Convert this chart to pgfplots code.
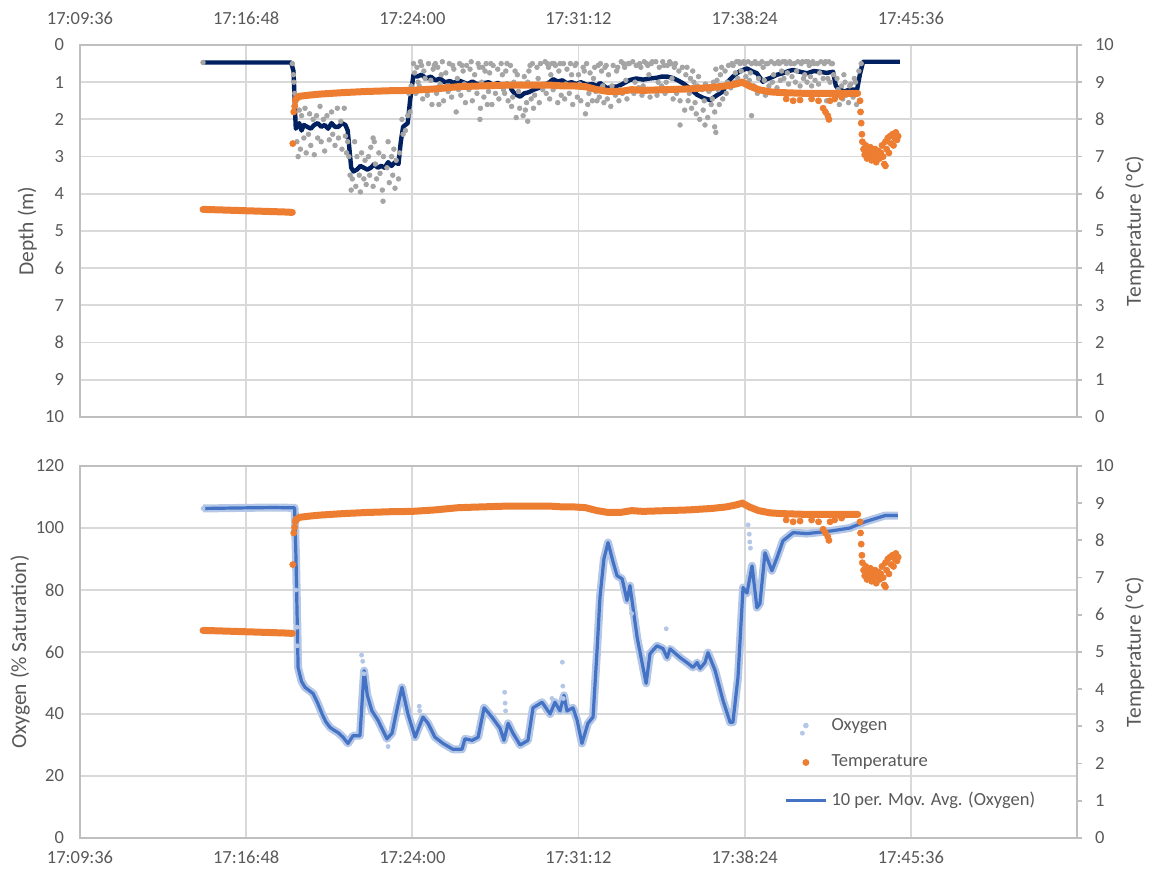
\documentclass[border=0pt]{standalone}
\usepackage{pgfplots}
\pgfplotsset{compat=1.18}
\usepackage{pgfplotstable}
\usepackage{fontspec}
\setmainfont{Carlito}

\definecolor{txt}{HTML}{595959}
\definecolor{gridc}{HTML}{D9D9D9}
\definecolor{axc}{HTML}{BFBFBF}
\definecolor{navy}{HTML}{002060}
\definecolor{org}{HTML}{ED7D31}
\definecolor{dgrey}{HTML}{A5A5A5}
\definecolor{oxyl}{HTML}{B4C7E7}
\definecolor{oxy}{HTML}{4472C4}

% time axis: minutes after 17:00
\pgfplotstableread{
t T
14.93 5.58
15.5 5.57
16.0 5.56
16.5 5.55
17.0 5.54
17.5 5.53
18.0 5.52
18.5 5.51
18.8 5.50
18.81 nan
18.95 8.55
19.1 8.62
19.5 8.65
20.0 8.68
21.0 8.72
22.0 8.75
23.0 8.77
24.0 8.78
25.0 8.82
26.0 8.88
27.0 8.90
28.0 8.92
29.0 8.92
30.0 8.92
30.5 8.90
31.0 8.90
31.5 8.88
32.0 8.80
32.5 8.75
33.0 8.75
33.5 8.80
34.0 8.78
35.0 8.80
36.0 8.82
37.0 8.86
37.6 8.90
38.0 8.95
38.3 9.00
38.6 8.90
39.0 8.80
39.5 8.74
40.0 8.72
41.0 8.70
42.0 8.70
43.0 8.70
43.3 8.70
}\temptab

\pgfplotstableread{
t O
14.93 106.3
16.8 106.5
18.0 106.6
18.9 106.5
18.96 90
19.05 55
19.2 50.5
19.35 48.6
19.70 46.6
19.9 43.5
20.09 40
20.25 37.5
20.43 35.7
20.6 34.8
20.78 34
21.0 32.5
21.21 30.5
21.43 33
21.73 33
21.91 54
22.05 46
22.25 41
22.51 38
22.90 32
23.12 33.8
23.35 42
23.55 48.6
23.81 40
24.12 32.5
24.46 39
24.68 37
24.98 32.5
25.33 30.5
25.76 28.6
26.15 28.6
26.28 32
26.59 31.5
26.85 32.5
27.11 42
27.45 39
27.80 35.4
27.97 31.5
28.15 37
28.36 33.8
28.67 30
29.01 31.5
29.23 42
29.62 43.8
29.97 40
30.18 43.8
30.40 41
30.57 46
30.70 41
30.96 42
31.14 38
31.35 30.5
31.61 37
31.83 39
32.0 60
32.13 77.6
32.3 90
32.48 95.3
32.7 89
32.87 84.6
33.09 83.6
33.30 76.6
33.43 81.4
33.74 64.7
34.13 49.9
34.30 59.5
34.60 62
34.86 61.1
35.04 58.2
35.17 61
35.60 58.2
35.95 56.3
36.16 55
36.34 56.6
36.47 54.7
36.68 56.6
36.81 59.8
37.12 54
37.46 44.4
37.77 37.3
37.89 37.3
38.11 51.8
38.33 80.8
38.50 79
38.72 87.8
38.93 74.3
39.06 75.6
39.28 92
39.58 86.2
39.80 90.4
40.06 95.9
40.50 98.5
41.10 98.2
42.10 99
42.96 100
43.61 102
44.48 104
45.04 104
}\oxytab

\pgfplotsset{
  panel/.style={
    scale only axis, width=498.5pt, height=186pt, anchor=south west,
    xmin=9.6, xmax=52.8,
    xtick={9.6,16.8,24,31.2,38.4,45.6,52.8},
    xticklabels={17:09:36,17:16:48,17:24:00,17:31:12,17:38:24,17:45:36,{}},
    major tick length=0pt,
    tick label style={font=\fontsize{9.25}{11}\selectfont, text=txt},
    yticklabel style={xshift=-4.5pt},
    label style={font=\fontsize{10.75}{13}\selectfont, text=txt},
    axis line style={axc, line width=0.9pt},
    grid style={gridc, line width=0.9pt},
    xmajorgrids, ymajorgrids,
    /pgf/number format/assume math mode=true,
    unbounded coords=jump,
  },
  rpanel/.style={
    scale only axis, width=498.5pt, height=186pt, anchor=south west,
    xmin=9.6, xmax=52.8,
    axis x line=none, axis y line*=right,
    ymin=0, ymax=10, ytick={0,...,10},
    tick align=outside, major tick length=2.5pt,
    ytick style={axc, line width=0.9pt},
    tick label style={font=\fontsize{9.25}{11}\selectfont, text=txt},
    yticklabel style={xshift=3pt},
    label style={font=\fontsize{10.75}{13}\selectfont, text=txt},
    axis line style={axc, line width=0.9pt},
    /pgf/number format/assume math mode=true,
    unbounded coords=jump,
    ylabel={Temperature (ºC)},
    ylabel style={at={(axis description cs:1.058,0.5)}, anchor=center},
  },
  legend image code/.code={\draw[mark repeat=2, mark phase=2, #1]
    plot coordinates {(0pt,0pt) (10pt,0pt) (20pt,0pt)};},
}

\begin{document}
\begin{tikzpicture}
\useasboundingbox (0,0) rectangle (575pt,436pt);

% ---------- top panel: depth ----------
\begin{axis}[panel, at={(40pt,227.5pt)},
    y dir=reverse, ymin=0, ymax=10, ytick={0,...,10},
    xticklabel pos=upper,
    xticklabel style={yshift=6.5pt},
    ylabel={Depth (m)},
    ylabel style={at={(axis description cs:-0.053,0.5)}, anchor=center}]
\addplot[only marks, mark=*, mark size=1.15pt, dgrey] coordinates {
(14.93,0.47) (18.8,0.5) (18.85,0.8) (18.87,1.0) (18.9,1.3) (18.92,1.6)
(19.0,2.6) (19.05,3.0) (19.1,1.75) (19.15,2.8) (19.2,1.9) (19.3,2.5) (19.35,1.7) (19.4,2.9)
(19.5,2.4) (19.55,1.85) (19.6,2.7) (19.7,2.0) (19.75,2.95) (19.85,1.9) (19.9,2.5) (20.0,1.65)
(20.05,2.6) (20.15,2.0) (20.2,2.85) (20.3,1.9) (20.4,2.55) (20.5,1.8) (20.55,2.4) (20.65,2.7)
(20.75,1.7) (20.8,2.5) (20.9,2.05) (20.95,2.8) (21.05,1.7) (21.1,2.45) (21.15,2.9)
(21.2,2.6) (21.25,3.0) (21.3,3.5)
(21.35,3.9) (21.4,3.6) (21.5,2.6) (21.55,3.8) (21.6,3.0) (21.7,3.5) (21.75,3.95) (21.8,2.9)
(21.9,3.6) (21.95,3.1) (22.0,3.75) (22.1,3.0) (22.15,3.5) (22.2,2.75) (22.3,3.8) (22.4,3.2)
(22.45,3.6) (22.55,2.9) (22.6,3.45) (22.7,3.9) (22.73,4.2) (22.75,3.0) (22.9,3.3) (22.95,2.6)
(23.0,3.7) (23.1,3.0) (23.15,3.5) (23.2,2.8) (23.25,3.85) (23.3,3.1) (23.4,3.6) (23.45,2.9)
(22.3,2.5) (22.35,2.6)
(23.55,2.0) (23.6,2.4) (23.7,2.3) (23.8,1.9) (23.85,1.3) (23.9,1.8) (23.95,1.1)
(24.05,0.5) (24.15,1.3) (24.2,0.6) (24.3,1.1) (24.35,0.45) (24.45,1.45) (24.5,0.7) (24.6,1.2)
(24.7,0.5) (24.8,0.95) (24.85,1.6) (24.95,0.55)
(24.1,0.75) (24.25,1.0) (24.4,0.55) (24.55,0.9) (24.65,1.35) (24.9,0.65)
(25.05,1.3) (25.1,0.6) (25.2,1.05) (25.3,0.45) (25.35,1.5) (25.45,0.75) (25.55,1.25) (25.6,0.5)
(25.7,1.4) (25.8,0.65) (25.9,1.8) (25.95,0.9)
(25.0,0.5) (25.15,1.6) (25.25,0.8) (25.5,1.1) (25.75,0.55) (25.85,1.15)
(26.05,0.5) (26.1,1.35) (26.2,0.7) (26.3,1.55) (26.35,0.55) (26.45,1.2) (26.55,0.45) (26.6,1.5)
(26.7,0.8) (26.8,1.3) (26.85,0.5) (26.95,1.7) (26.93,2.0)
(26.0,1.2) (26.15,0.55) (26.25,1.05) (26.5,0.65) (26.65,1.1) (26.9,0.6)
(27.05,0.6) (27.1,1.4) (27.2,0.5) (27.3,1.25) (27.35,0.75) (27.45,1.6) (27.5,0.55) (27.6,1.3)
(27.7,0.65) (27.75,1.45) (27.85,0.5) (27.95,1.2)
(27.0,1.0) (27.15,0.7) (27.25,1.6) (27.4,0.5) (27.65,1.1) (27.9,0.8)
(28.05,0.7) (28.15,1.5) (28.25,0.55) (28.3,1.65) (28.4,1.0) (28.5,1.95) (28.55,0.8) (28.65,1.7)
(28.7,1.05) (28.8,1.9) (28.85,0.85) (28.95,1.55) (29.0,2.05)
(28.0,1.3) (28.1,0.5) (28.35,1.4) (28.45,0.7) (28.6,1.25) (28.9,1.75)
(29.05,0.7) (29.15,1.45) (29.2,0.5) (29.3,1.35) (29.4,0.6) (29.5,1.55) (29.55,0.5) (29.65,1.2)
(29.75,0.45) (29.8,1.3) (29.9,0.6) (29.95,1.45)
(29.0,1.0) (29.1,0.55) (29.25,1.7) (29.45,0.9) (29.7,1.05) (29.85,0.5)
(30.05,0.5) (30.1,1.2) (30.2,0.55) (30.3,1.55) (30.35,0.7) (30.45,1.35) (30.55,0.5) (30.6,1.45)
(30.7,0.65) (30.8,1.3) (30.85,0.5) (30.95,1.6)
(30.0,0.8) (30.15,0.5) (30.25,1.1) (30.4,0.5) (30.65,1.05) (30.9,0.8)
(31.05,0.55) (31.15,1.4) (31.2,0.8) (31.3,1.5) (31.4,0.6) (31.5,1.85) (31.55,0.5) (31.65,1.3)
(31.7,0.75) (31.8,1.5) (31.9,0.6) (31.95,1.25)
(31.0,1.1) (31.1,0.5) (31.25,1.05) (31.45,0.7) (31.6,1.6) (31.85,0.9)
(32.05,0.55) (32.1,1.4) (32.2,0.7) (32.3,1.55) (32.35,0.6) (32.45,1.45) (32.5,0.8) (32.6,1.65)
(32.7,0.55) (32.8,1.35) (32.85,0.7) (32.95,1.5)
(32.0,1.5) (32.15,0.5) (32.25,1.1) (32.4,0.55) (32.65,1.1) (32.9,0.6)
(33.05,0.45) (33.1,1.3) (33.2,0.6) (33.3,1.45) (33.35,0.5) (33.45,1.2) (33.55,0.45) (33.6,1.3)
(33.7,0.55) (33.8,1.15) (33.85,0.5) (33.95,1.35)
(33.0,1.2) (33.15,0.5) (33.25,0.95) (33.4,0.5) (33.65,1.0) (33.9,0.6)
(34.05,0.45) (34.1,1.25) (34.2,0.55) (34.3,1.4) (34.35,0.5) (34.45,1.2) (34.55,0.45) (34.6,1.35)
(34.7,0.6) (34.8,1.1) (34.85,0.45) (34.95,1.3)
(34.0,1.1) (34.15,0.5) (34.25,0.8) (34.4,0.45) (34.65,1.0) (34.9,0.55)
(35.05,0.55) (35.1,1.2) (35.2,0.5) (35.3,1.45) (35.35,0.6) (35.45,1.3) (35.55,0.7) (35.6,1.5)
(35.7,0.6) (35.8,1.75) (35.85,0.8) (35.95,1.5) (35.6,2.15)
(35.0,1.0) (35.15,0.45) (35.25,0.9) (35.4,0.5) (35.65,1.2) (35.9,0.6)
(36.05,0.9) (36.1,1.7) (36.2,1.0) (36.3,1.85) (36.35,1.1) (36.45,2.0) (36.55,1.2) (36.6,1.75)
(36.7,1.05) (36.8,1.95) (36.85,1.25) (36.95,1.6) (36.68,2.15)
(36.0,1.3) (36.15,0.7) (36.25,1.55) (36.4,0.85) (36.65,1.5) (36.9,1.2)
(37.05,1.0) (37.1,1.8) (37.2,0.95) (37.3,1.6) (37.35,0.8) (37.45,1.45) (37.55,0.7) (37.6,1.3)
(37.7,0.55) (37.8,1.15) (37.85,0.5) (37.95,1.0) (37.1,2.2) (37.15,2.35)
(37.0,1.45) (37.15,0.65) (37.25,1.2) (37.4,0.6) (37.65,1.0) (37.9,0.55)
(38.05,0.45) (38.1,0.9) (38.2,0.5) (38.3,1.0) (38.35,0.45) (38.45,0.85) (38.55,0.45) (38.6,0.95)
(38.7,0.5) (38.8,1.1) (38.85,0.45) (38.95,1.3) (38.7,1.9)
(38.0,0.75) (38.15,0.45) (38.25,0.7) (38.4,0.5) (38.65,0.75) (38.9,0.5)
(39.05,0.5) (39.1,1.2) (39.2,0.6) (39.3,1.35) (39.35,0.5) (39.45,1.1) (39.55,0.45) (39.6,1.0)
(39.7,0.5) (39.8,1.15) (39.85,0.45) (39.95,0.95)
(39.0,0.9) (39.15,0.45) (39.25,0.95) (39.4,0.5) (39.65,0.8) (39.9,0.5)
(40.05,0.45) (40.1,0.9) (40.2,0.5) (40.3,1.05) (40.35,0.45) (40.45,0.85) (40.55,0.5) (40.6,1.0)
(40.7,0.45) (40.8,1.1) (40.85,0.5) (40.95,0.9)
(40.0,0.7) (40.15,0.45) (40.25,0.75) (40.4,0.5) (40.65,0.7) (40.9,0.45)
(41.05,0.45) (41.1,1.0) (41.2,0.55) (41.3,1.1) (41.35,0.45) (41.45,0.95) (41.55,0.5) (41.6,1.05)
(41.7,0.45) (41.8,0.9) (41.85,0.5) (41.95,1.5) (42.05,0.45) (42.1,1.0) (42.2,0.5)
(41.0,0.8) (41.15,0.45) (41.25,0.85) (41.4,0.5) (41.65,0.75) (41.9,0.45)
(42.0,0.9) (42.15,0.5) (42.25,0.8) (42.45,1.2) (42.7,0.8) (42.95,1.1) (43.2,1.0)
(42.35,1.4) (42.4,0.9) (42.5,1.6) (42.6,1.1) (42.65,1.45) (42.75,1.0) (42.8,1.35) (42.9,1.55)
(43.0,1.05) (43.1,1.4) (43.15,0.9) (43.25,1.6) (43.35,0.7) (43.45,0.5)
};
\addplot[navy, line width=2.2pt, line join=round] coordinates {
(14.93,0.47) (18.75,0.47) (18.85,0.7) (18.95,2.25) (19.1,2.1) (19.2,2.3) (19.3,2.15)
(19.45,2.2) (19.6,2.25) (19.75,2.15) (19.9,2.1) (20.05,2.2) (20.2,2.15) (20.35,2.25)
(20.5,2.1) (20.65,2.2) (20.8,2.2) (20.95,2.1) (21.1,2.15) (21.2,2.3) (21.35,3.3) (21.45,3.4)
(21.6,3.35) (21.75,3.25) (21.9,3.3) (22.05,3.35) (22.2,3.3) (22.35,3.2) (22.5,3.3)
(22.65,3.25) (22.8,3.3) (22.95,3.15) (23.1,3.25) (23.25,3.15) (23.4,3.2) (23.5,2.6)
(23.6,2.2) (23.8,2.1) (23.9,1.5) (24.05,0.8) (24.2,0.85) (24.4,0.8) (24.6,0.9) (24.8,0.85)
(25.0,0.95) (25.2,0.9) (25.4,1.0) (25.63,0.97) (25.8,1.02) (26.0,0.95) (26.2,1.0)
(26.4,1.05) (26.6,0.98) (26.8,1.05) (27.06,1.03) (27.3,1.0) (27.5,1.07) (27.7,1.02)
(27.9,1.08) (28.1,1.04) (28.23,1.07) (28.3,1.2) (28.45,1.32) (28.67,1.39) (28.85,1.3)
(29.05,1.27) (29.23,1.21) (29.5,1.15) (29.8,1.05) (29.95,1.0) (30.10,0.92) (30.3,0.98)
(30.5,0.95) (30.70,1.03) (30.9,1.0) (31.1,1.05) (31.3,1.0) (31.57,1.07) (31.8,1.05)
(32.0,1.1) (32.13,1.02) (32.3,1.1) (32.44,1.16) (32.65,1.12) (32.87,1.12) (33.1,1.05)
(33.25,1.0) (33.43,0.94) (33.7,0.9) (34.0,0.93) (34.30,0.9) (34.6,0.88) (34.8,0.85)
(35.04,0.85) (35.30,0.89) (35.5,0.95) (35.73,1.03) (36.0,1.15) (36.34,1.34) (36.6,1.42)
(36.90,1.48) (37.2,1.35) (37.46,1.25) (37.65,1.0) (37.89,0.85) (38.2,0.7) (38.50,0.63)
(38.7,0.7) (38.93,0.76) (39.19,0.99) (39.35,0.92) (39.50,0.89) (39.8,0.8) (40.06,0.76)
(40.3,0.7) (40.50,0.67) (40.8,0.72) (41.10,0.76) (41.4,0.7) (41.66,0.72) (41.95,0.75)
(42.23,0.72) (42.35,1.1) (42.44,1.16) (42.7,1.25) (42.96,1.2) (43.27,1.2) (43.40,0.77)
(43.53,0.45) (45.13,0.45)
};
\end{axis}

\begin{axis}[rpanel, at={(40pt,227.5pt)}]
\addplot[org, line width=3.5pt, line cap=round, forget plot] table[x=t, y=T] {\temptab};
\addplot[only marks, mark=*, mark size=1.5pt, org, forget plot] coordinates {
(18.82,7.35) (18.86,8.2) (18.9,8.35) (18.93,8.5)
(40.2,8.55) (40.5,8.5) (40.8,8.52) (41.3,8.55) (41.6,8.5) (41.8,8.3) (41.9,8.2) (42.0,8.1)
(42.05,8.0) (42.1,8.5) (42.3,8.55) (42.6,8.6)
(43.4,8.5) (43.42,8.2) (43.45,7.9) (43.48,7.6) (43.5,7.4) (43.55,7.2) (43.6,7.05) (43.65,7.3)
(43.7,6.95) (43.75,7.15) (43.8,7.0) (43.85,7.25) (43.9,6.9) (43.95,7.1) (44.0,7.0) (44.05,7.2)
(44.1,6.85) (44.15,7.05) (44.2,7.15) (44.25,6.95) (44.3,7.1) (44.35,7.3) (44.4,7.0) (44.45,6.8)
(44.5,6.75) (44.5,7.4) (44.55,7.2) (44.6,7.5) (44.65,7.1) (44.7,7.55) (44.75,7.35) (44.8,7.6)
(44.85,7.3) (44.9,7.5) (44.95,7.65) (45.0,7.45) (45.05,7.55)
};
\end{axis}

% ---------- bottom panel: oxygen ----------
\begin{axis}[panel, at={(40pt,17pt)},
    ymin=0, ymax=120, ytick={0,20,...,120},
    xticklabel style={yshift=-3pt},
    ylabel={Oxygen (\% Saturation)},
    ylabel style={at={(axis description cs:-0.060,0.5)}, anchor=center}]
\addplot[oxyl, line width=4pt, line join=round, forget plot] table[x=t, y=O] {\oxytab};
\addplot[only marks, mark=*, mark size=1pt, oxyl, forget plot] coordinates {
(14.93,106.3) (18.9,100) (18.95,80) (19.0,68) (19.02,62)
(21.8,59) (21.85,57) (21.9,53) (22.95,29.5) (24.3,42.5) (24.32,41)
(28.0,47) (28.02,43.5) (28.04,41) (30.05,45) (30.5,56.7) (30.52,49) (30.54,45)
(33.5,72.4) (35.0,67.5) (38.55,101) (38.6,98) (38.62,95.5) (38.65,93.5) (40.9,33.8)
};
\addplot[oxy, line width=1.6pt, line join=round, forget plot] table[x=t, y=O] {\oxytab};
\end{axis}

\begin{axis}[rpanel, at={(40pt,17pt)},
    legend style={at={(axis description cs:0.70,0.345)}, anchor=north west,
      draw=none, fill=none, text=txt, row sep=7pt,
      font=\fontsize{9.25}{11}\selectfont},
    legend cell align=left]
\addplot[org, line width=3.5pt, line cap=round, forget plot] table[x=t, y=T] {\temptab};
\addplot[only marks, mark=*, mark size=1.5pt, org, forget plot] coordinates {
(18.82,7.35) (18.86,8.2) (18.9,8.35) (18.93,8.5)
(40.2,8.55) (40.5,8.5) (40.8,8.52) (41.3,8.55) (41.6,8.5) (41.8,8.3) (41.9,8.2) (42.0,8.1)
(42.05,8.0) (42.1,8.5) (42.3,8.55) (42.6,8.6)
(43.4,8.5) (43.42,8.2) (43.45,7.9) (43.48,7.6) (43.5,7.4) (43.55,7.2) (43.6,7.05) (43.65,7.3)
(43.7,6.95) (43.75,7.15) (43.8,7.0) (43.85,7.25) (43.9,6.9) (43.95,7.1) (44.0,7.0) (44.05,7.2)
(44.1,6.85) (44.15,7.05) (44.2,7.15) (44.25,6.95) (44.3,7.1) (44.35,7.3) (44.4,7.0) (44.45,6.8)
(44.5,6.75) (44.5,7.4) (44.55,7.2) (44.6,7.5) (44.65,7.1) (44.7,7.55) (44.75,7.35) (44.8,7.6)
(44.85,7.3) (44.9,7.5) (44.95,7.65) (45.0,7.45) (45.05,7.55)
};
\addlegendimage{only marks, mark=*, mark size=1.2pt, oxyl}
\addlegendentry{Oxygen}
\addlegendimage{only marks, mark=*, mark size=1.5pt, org}
\addlegendentry{Temperature}
\addlegendimage{oxy, line width=1.6pt}
\addlegendentry{10 per. Mov. Avg. (Oxygen)}
\end{axis}
\end{tikzpicture}
\end{document}
